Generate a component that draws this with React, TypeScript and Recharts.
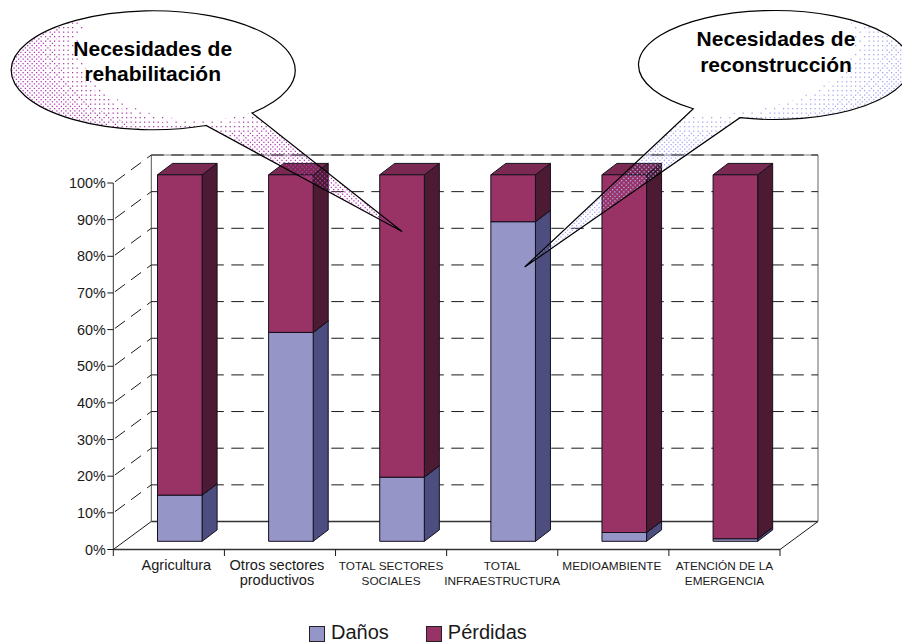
import React from "react";
import { BarChart, Bar, XAxis, YAxis, CartesianGrid, Legend } from "recharts";

const categories = [
  "Agricultura",
  "Otros sectores\nproductivos",
  "TOTAL SECTORES\nSOCIALES",
  "TOTAL\nINFRAESTRUCTURA",
  "MEDIOAMBIENTE",
  "ATENCIÓN DE LA\nEMERGENCIA",
];
const danos = [12.6, 57, 17.5, 87.2, 2.4, 0.7];
const perdidas = [87.4, 43, 82.5, 12.8, 97.6, 99.3];
const yTicks = [0, 10, 20, 30, 40, 50, 60, 70, 80, 90, 100];

const chartData = categories.map((name, i) => ({
  name,
  Daños: danos[i],
  Pérdidas: perdidas[i],
}));

const FONT = "'Liberation Sans', Arial, sans-serif";
const INK = "#1a1a1a";

// fake 3D: wall depth, and how far the bars sit in front of the wall
const DEPTH_X = 38;
const DEPTH_Y = 28;
const BAR_X = 11.2;
const BAR_Y = 8.2;
const SIDE_X = 15;
const SIDE_Y = 11.4;
const PLOT_H = 366.5;
const DASH = "12.5 7.5";

const Block = (props: any) => {
  const { x, y, width, height, fill, side, top } = props;
  const l = x + BAR_X;
  const r = l + width;
  const t = y - BAR_Y;
  const b = t + height;
  const sx = SIDE_X;
  const sy = SIDE_Y;
  return (
    <g stroke="#14101c" strokeWidth={1} strokeLinejoin="round">
      <polygon points={`${r},${t} ${r + sx},${t - sy} ${r + sx},${b - sy} ${r},${b}`} fill={side} />
      <polygon points={`${l},${t} ${l + sx},${t - sy} ${r + sx},${t - sy} ${r},${t}`} fill={top} />
      <rect x={l} y={t} width={width} height={height} fill={fill} />
    </g>
  );
};

// back wall, floor and the dashed gridlines that run round the corner
const WallLine = (props: any) => {
  const { x1, x2, y1 } = props;
  const isFloor = y1 > 545;
  const bx1 = x1 + DEPTH_X;
  const bx2 = x2 + DEPTH_X;
  const by = y1 - DEPTH_Y;
  return (
    <g fill="none">
      {isFloor && (
        <>
          <line x1={bx1} y1={by} x2={bx1} y2={by - PLOT_H} stroke="#555" strokeWidth={1} />
          <line x1={bx2} y1={by} x2={bx2} y2={by - PLOT_H} stroke="#808080" strokeWidth={1.2} />
          <line x1={bx1} y1={by - PLOT_H} x2={bx2} y2={by - PLOT_H} stroke="#808080" strokeWidth={1} />
          <line x1={x2} y1={y1} x2={bx2} y2={by} stroke={INK} strokeWidth={1} />
        </>
      )}
      <line x1={x1} y1={y1} x2={bx1} y2={by} stroke={INK} strokeWidth={1} strokeDasharray={isFloor ? undefined : DASH} strokeDashoffset={-2} />
      <line x1={bx1} y1={by} x2={bx2} y2={by} stroke={isFloor ? "#333" : INK} strokeWidth={isFloor ? 1.3 : 1} strokeDasharray={isFloor ? undefined : DASH} />
    </g>
  );
};

const tickNudge = [7.5, -3, 0, 0, -1.5, 0];

const CategoryTick = (props: any) => {
  const { x, y, payload, index, width, visibleTicksCount } = props;
  const band = width / visibleTicksCount;
  const lines: string[] = String(payload.value).split("\n");
  const small = lines[0] === lines[0].toUpperCase();
  const axisY = y - 8;
  return (
    <g>
      <line x1={x - band / 2} y1={axisY} x2={x - band / 2} y2={axisY + 6.5} stroke={INK} />
      {index === visibleTicksCount - 1 && (
        <line x1={x + band / 2} y1={axisY} x2={x + band / 2} y2={axisY + 6.5} stroke={INK} />
      )}
      <text x={x + tickNudge[index]} y={axisY + 20.5} textAnchor="middle" fontFamily={FONT} fontSize={small ? 11.8 : 14.6} fill={INK}>
        {lines.map((line, i) => (
          <tspan key={i} x={x + tickNudge[index]} dy={i === 0 ? 0 : 15}>
            {line}
          </tspan>
        ))}
      </text>
    </g>
  );
};

const LegendBox = ({ payload }: any) => (
  <div style={{ display: "flex", paddingLeft: 309, paddingTop: 11, fontFamily: FONT, fontSize: 20, color: INK, lineHeight: "23px" }}>
    {(payload || []).map((item: any) => (
      <div key={item.value} style={{ display: "flex", alignItems: "center", marginRight: 37 }}>
        <span style={{ width: 14, height: 14, background: item.color, border: "1px solid #222", marginRight: 6, marginTop: 3 }} />
        {item.value}
      </div>
    ))}
  </div>
);

// ordered dither: each layer adds more dots further from the clear centre
const ditherLayers = [
  { scale: 1.0, dots: [[0, 0], [4.5, 4.5]] },
  { scale: 1.07, dots: [[4.5, 0], [0, 4.5]] },
  { scale: 1.2, dots: [[2.25, 2.25], [6.75, 6.75]] },
  { scale: 1.32, dots: [[6.75, 2.25], [2.25, 6.75]] },
];

const Callout = ({ id, d, color, clear, lines, textX, textY }: any) => (
  <g>
    <defs>
      <clipPath id={`${id}-clip`}>
        <path d={d} />
      </clipPath>
      {ditherLayers.map((layer, i) => (
        <pattern key={i} id={`${id}-dots-${i}`} patternUnits="userSpaceOnUse" width={9} height={9}>
          {layer.dots.map(([px, py], j) => (
            <rect key={j} x={px} y={py} width={1.3} height={1.3} fill={color} />
          ))}
        </pattern>
      ))}
    </defs>
    <g clipPath={`url(#${id}-clip)`}>
      {ditherLayers.map((layer, i) => {
        const rx = clear.rx * layer.scale;
        const ry = clear.ry * layer.scale;
        const hole = `M${clear.cx - rx} ${clear.cy}a${rx} ${ry} 0 1 0 ${rx * 2} 0a${rx} ${ry} 0 1 0 ${-rx * 2} 0Z`;
        return <path key={i} d={`M-10 -10H920V660H-10Z${hole}`} fillRule="evenodd" fill={`url(#${id}-dots-${i})`} />;
      })}
    </g>
    <path d={d} fill="none" stroke="#000" strokeWidth={1.2} strokeLinejoin="miter" />
    <text textAnchor="middle" fontFamily={FONT} fontWeight="bold" fontSize={21} fill="#000">
      {lines.map((line: string, i: number) => (
        <tspan key={i} x={textX} y={textY + i * 25.5}>
          {line}
        </tspan>
      ))}
    </text>
  </g>
);

const App: React.FC = () => (
  <div style={{ position: "absolute", left: 0, top: 0, width: 902, height: 643, overflow: "hidden" }}>
    <BarChart
      width={902}
      height={643}
      data={chartData}
      margin={{ top: 183, right: 122, bottom: 0, left: 0 }}
      barSize={44.6}
      style={{ position: "absolute", left: 0, top: 0 }}
    >
      <CartesianGrid vertical={false} horizontal={(p: any) => <WallLine key={p.key} {...p} />} />
      <XAxis
        dataKey="name"
        height={60}
        interval={0}
        tickLine={false}
        tick={(p: any) => <CategoryTick {...p} />}
        axisLine={{ stroke: "#333", strokeWidth: 1.3 }}
      />
      <YAxis
        width={113.3}
        domain={[0, 100]}
        ticks={yTicks}
        interval={0}
        tickSize={6}
        tickMargin={1.5}
        tickFormatter={(v: number) => `${v}%`}
        tick={{ fontFamily: FONT, fontSize: 14.4, fill: INK }}
        tickLine={{ stroke: INK }}
        axisLine={{ stroke: "#333" }}
      />
      <Legend verticalAlign="bottom" height={33.5} content={<LegendBox />} wrapperStyle={{ left: 0, width: 902 }} />
      <Bar
        dataKey="Daños"
        stackId="a"
        fill="#9595C7"
        isAnimationActive={false}
        shape={(p: any) => <Block {...p} side="#4D4D80" top="#6E6EA3" />}
      />
      <Bar
        dataKey="Pérdidas"
        stackId="a"
        fill="#993366"
        isAnimationActive={false}
        shape={(p: any) => <Block {...p} side="#4D1A33" top="#7A2952" />}
      />
    </BarChart>
    <svg width={902} height={643} style={{ position: "absolute", left: 0, top: 0, pointerEvents: "none" }}>
      <Callout
        id="rehab"
        d="M252 113A142 59.5 0 1 0 206 125.5L402 231.5Z"
        color="#B040B0"
        clear={{ cx: 200, cy: 45, rx: 120, ry: 75 }}
        lines={["Necesidades de", "rehabilitación"]}
        textX={152.7}
        textY={55.5}
      />
      <Callout
        id="recon"
        d="M693.3 108.7A136 54.5 0 1 1 740 117.7L524.7 267Z"
        color="#A8A8F0"
        clear={{ cx: 700, cy: 40, rx: 155, ry: 75 }}
        lines={["Necesidades de", "reconstrucción"]}
        textX={776}
        textY={46}
      />
    </svg>
  </div>
);

export default App;
